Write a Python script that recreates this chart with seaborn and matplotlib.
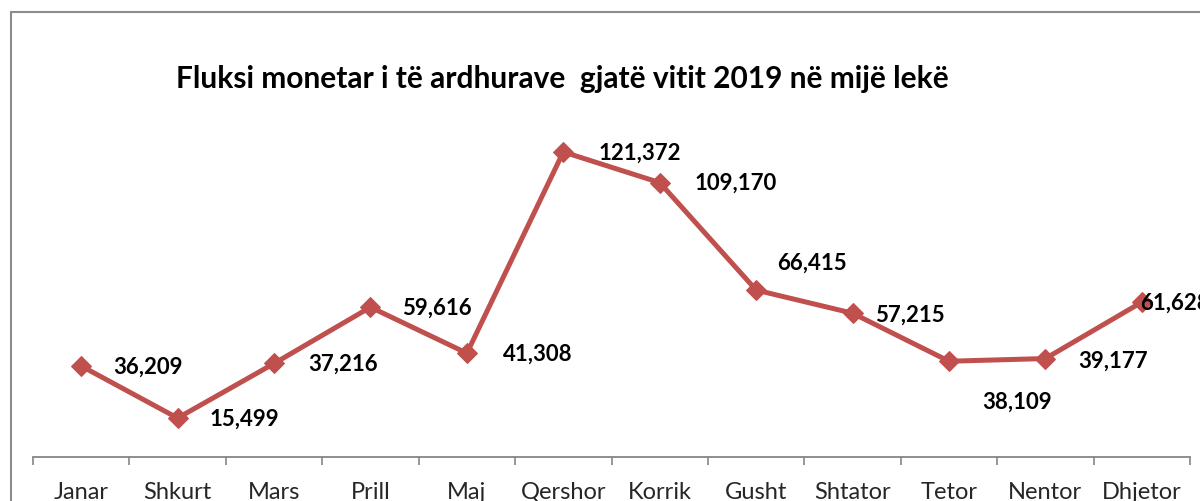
import numpy as np
import matplotlib
matplotlib.use("Agg")
import matplotlib.pyplot as plt
import matplotlib.patches as patches
import seaborn as sns

# monthly values (thousand lek)
months = ["Janar", "Shkurt", "Mars", "Prill", "Maj", "Qershor",
          "Korrik", "Gusht", "Shtator", "Tetor", "Nentor", "Dhjetor"]
values = [36209, 15499, 37216, 59616, 41308, 121372,
          109170, 66415, 57215, 38109, 39177, 61628]
title = "Fluksi monetar i të ardhurave  gjatë vitit 2019 në mijë lekë"

sns.set_theme(style="white")
plt.rcParams['font.family'] = ['Lato', 'DejaVu Sans']

fig = plt.figure(figsize=(12, 5.02), dpi=100)
ax = fig.add_axes([0.0275, 0.0876, 0.9642, 0.701])

red = "#C0504D"
x = np.arange(len(months))
sns.lineplot(x=x, y=values, ax=ax, color=red, linewidth=3.6,
             marker="D", markersize=10, markeredgecolor=red)

ax.set_ylim(0, 140000)
ax.set_xlim(-0.5, len(months) - 0.5)

# label offsets in points (dx, dy)
offs = [(48, 0), (48, 0), (50, 0), (48, 0), (51, 0), (55, 0),
        (55, 0), (40, 20), (41, -1), (49, -29), (49, -1), (24, 0)]
for i, v in enumerate(values):
    ax.annotate(f"{v:,}", (x[i], v), xytext=offs[i], textcoords="offset points",
                ha="center", va="center", fontsize=16, fontweight="bold",
                color="black", annotation_clip=False)

# category axis, Excel style
ax.set_yticks([])
ax.set_xticks(x)
ax.set_xticklabels(months, fontsize=17)
ax.set_xticks(np.arange(-0.5, len(months)), minor=True)
ax.tick_params(axis="x", which="major", length=0, pad=17)
ax.tick_params(axis="x", which="minor", length=6, width=1.2, color="#868686",
               direction="out", bottom=True)
for s in ["left", "right", "top"]:
    ax.spines[s].set_visible(False)
ax.spines["bottom"].set_color("#868686")
ax.spines["bottom"].set_linewidth(1.3)
ax.set_xlabel("")
ax.set_ylabel("")

fig.text(0.469, 0.843, title, ha="center", va="center",
         fontsize=21.5, fontweight="bold", color="black")

# chart border
fig.patches.append(patches.Rectangle((11 / 1200, -0.1), 1.2, 1.1 - 13 / 502,
                                     transform=fig.transFigure, fill=False,
                                     edgecolor="#8c8c8c", linewidth=1.5))

fig.savefig("out.png", dpi=100)
